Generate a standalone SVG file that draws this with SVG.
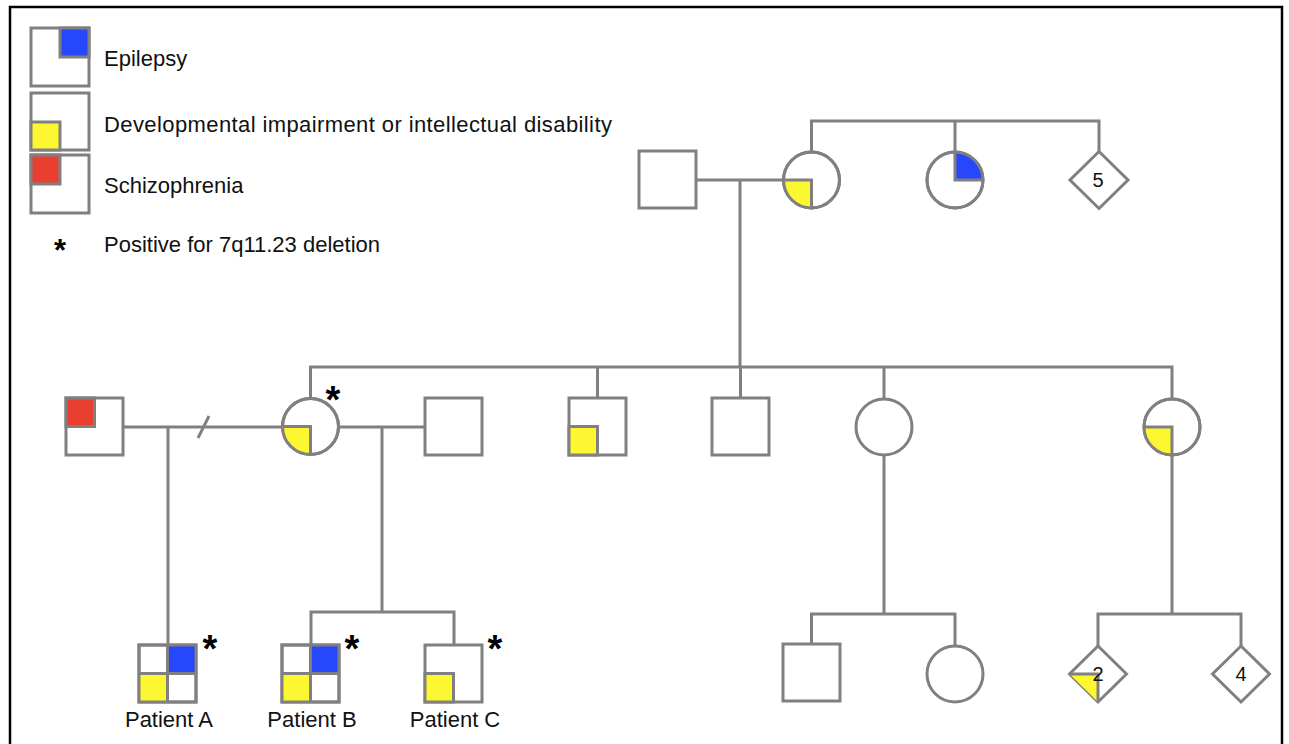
<svg xmlns="http://www.w3.org/2000/svg" width="1289" height="744" viewBox="0 0 1289 744">
<defs>
<style>
.s{fill:#fff;stroke:#808080;stroke-width:3}
.o{fill:none;stroke:#808080;stroke-width:3}
.q{stroke:#808080;stroke-width:3}
.b{fill:#2747fb}
.y{fill:#fdf731}
.r{fill:#e83f30}
.ln{fill:none;stroke:#808080;stroke-width:3}
.t{font-family:"Liberation Sans",Arial,sans-serif;font-size:22px;fill:#111}
.n{font-family:"Liberation Sans",Arial,sans-serif;font-size:20px;fill:#111;text-anchor:middle}
.a{font-family:"Liberation Sans",Arial,sans-serif;font-size:38px;font-weight:bold;fill:#000;text-anchor:middle}
</style>
</defs>
<rect x="0" y="0" width="1289" height="744" fill="#fff"/>
<rect x="10" y="7" width="1272" height="780" fill="none" stroke="#000" stroke-width="2.5"/>

<g id="legend">
<g id="leg-epilepsy">
<rect class="s" x="31" y="28" width="58" height="58"/>
<rect class="b q" x="60" y="28" width="29" height="29"/>
<text class="t" x="104" y="66">Epilepsy</text>
</g>
<g id="leg-dev">
<rect class="s" x="31" y="93" width="58" height="57"/>
<rect class="y q" x="31" y="122" width="29" height="28"/>
<text class="t" x="104" y="132" style="letter-spacing:0.4px">Developmental impairment or intellectual disability</text>
</g>
<g id="leg-scz">
<rect class="s" x="31" y="155" width="58" height="58"/>
<rect class="r q" x="31" y="155" width="29" height="29"/>
<text class="t" x="104" y="193">Schizophrenia</text>
</g>
<g id="leg-del">
<text class="a" x="60" y="261" style="font-size:31px">*</text>
<text class="t" x="104" y="252">Positive for 7q11.23 deletion</text>
</g>
</g>

<g id="connectors">
<polyline class="ln" points="811.5,152 811.5,121 1099,121 1099,151.5"/>
<line class="ln" x1="955" y1="121" x2="955" y2="152"/>
<line class="ln" x1="696" y1="180" x2="783.5" y2="180"/>
<line class="ln" x1="740" y1="180" x2="740" y2="367"/>
<polyline class="ln" points="310.5,398.5 310.5,367 1172,367 1172,399"/>
<line class="ln" x1="597.5" y1="367" x2="597.5" y2="398"/>
<line class="ln" x1="740.5" y1="367" x2="740.5" y2="398"/>
<line class="ln" x1="884" y1="367" x2="884" y2="399"/>
<line class="ln" x1="123" y1="427" x2="282.5" y2="427"/>
<line class="ln" x1="198" y1="438" x2="209" y2="416"/>
<line class="ln" x1="168" y1="427" x2="168" y2="645"/>
<line class="ln" x1="338.5" y1="427" x2="425" y2="427"/>
<line class="ln" x1="382" y1="427" x2="382" y2="612"/>
<polyline class="ln" points="311,645 311,612 454,612 454,645"/>
<line class="ln" x1="884" y1="455" x2="884" y2="614"/>
<polyline class="ln" points="811.5,644 811.5,614 955,614 955,646"/>
<line class="ln" x1="1172" y1="455" x2="1172" y2="614"/>
<polyline class="ln" points="1098,646 1098,614 1241,614 1241,646"/>
</g>

<g id="gen1-father">
<rect class="s" x="639" y="151" width="57" height="57"/>
</g>
<g id="gen1-mother">
<circle class="s" cx="811.5" cy="180" r="28"/>
<path class="y" d="M811.5,180 L783.5,180 A28,28 0 0 0 811.5,208 Z"/>
<circle class="o" cx="811.5" cy="180" r="28"/>
<path class="o" d="M783.5,180 L811.5,180 L811.5,208"/>
</g>
<g id="gen1-aunt">
<circle class="s" cx="955" cy="180" r="28"/>
<path class="b" d="M955,180 L955,152 A28,28 0 0 1 983,180 Z"/>
<circle class="o" cx="955" cy="180" r="28"/>
<path class="o" d="M955,152 L955,180 L983,180"/>
</g>
<g id="gen1-five">
<polygon class="s" points="1099,151.5 1128,180 1099,208.5 1070,180"/>
<text class="n" x="1098" y="187">5</text>
</g>

<g id="gen2-exhusband">
<rect class="s" x="66" y="398" width="57" height="57"/>
<rect class="r q" x="66" y="398" width="28.5" height="28.5"/>
</g>
<g id="gen2-mother">
<circle class="s" cx="310.5" cy="426.5" r="28"/>
<path class="y" d="M310.5,426.5 L282.5,426.5 A28,28 0 0 0 310.5,454.5 Z"/>
<circle class="o" cx="310.5" cy="426.5" r="28"/>
<path class="o" d="M282.5,426.5 L310.5,426.5 L310.5,454.5"/>
<text class="a" x="333" y="413">*</text>
</g>
<g id="gen2-husband">
<rect class="s" x="425" y="398" width="57" height="57"/>
</g>
<g id="gen2-brother1">
<rect class="s" x="569" y="398" width="57" height="57"/>
<rect class="y q" x="569" y="426.5" width="28.5" height="28.5"/>
</g>
<g id="gen2-brother2">
<rect class="s" x="712" y="398" width="57" height="57"/>
</g>
<g id="gen2-sister1">
<circle class="s" cx="884" cy="427" r="28"/>
</g>
<g id="gen2-sister2">
<circle class="s" cx="1172" cy="427" r="28"/>
<path class="y" d="M1172,427 L1144,427 A28,28 0 0 0 1172,455 Z"/>
<circle class="o" cx="1172" cy="427" r="28"/>
<path class="o" d="M1144,427 L1172,427 L1172,455"/>
</g>

<g id="patient-a">
<rect class="s" x="139" y="645" width="57" height="57"/>
<rect class="b" x="167.5" y="645" width="28.5" height="28.5"/>
<rect class="y" x="139" y="673.5" width="28.5" height="28.5"/>
<rect class="o" x="139" y="645" width="57" height="57"/>
<path class="o" d="M167.5,645 V702 M139,673.5 H196"/>
<text class="a" x="210" y="662">*</text>
<text class="t" x="169" y="727" text-anchor="middle">Patient A</text>
</g>
<g id="patient-b">
<rect class="s" x="282" y="645" width="57" height="57"/>
<rect class="b" x="310.5" y="645" width="28.5" height="28.5"/>
<rect class="y" x="282" y="673.5" width="28.5" height="28.5"/>
<rect class="o" x="282" y="645" width="57" height="57"/>
<path class="o" d="M310.5,645 V702 M282,673.5 H339"/>
<text class="a" x="352" y="662">*</text>
<text class="t" x="312" y="727" text-anchor="middle">Patient B</text>
</g>
<g id="patient-c">
<rect class="s" x="425" y="645" width="57" height="57"/>
<rect class="y q" x="425" y="673.5" width="28.5" height="28.5"/>
<text class="a" x="495" y="662">*</text>
<text class="t" x="455" y="727" text-anchor="middle">Patient C</text>
</g>

<g id="gen3-cousin-m">
<rect class="s" x="783" y="644" width="57" height="57"/>
</g>
<g id="gen3-cousin-f">
<circle class="s" cx="955" cy="674" r="28"/>
</g>
<g id="gen3-two">
<polygon class="s" points="1098,646 1126.5,674 1098,702 1069.5,674"/>
<path class="y" d="M1069.5,674 L1098,674 L1098,702 Z"/>
<path class="o" d="M1069.5,674 L1098,674 L1098,702"/>
<text class="n" x="1098" y="681">2</text>
</g>
<g id="gen3-four">
<polygon class="s" points="1241,646 1269.5,674 1241,702 1212.5,674"/>
<text class="n" x="1241" y="681">4</text>
</g>
</svg>
